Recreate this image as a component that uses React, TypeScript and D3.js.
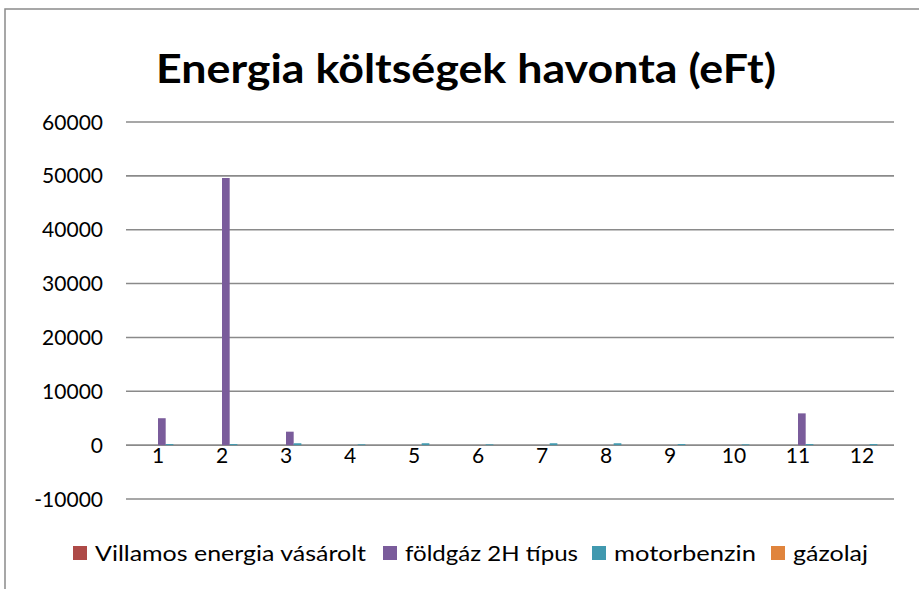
import React from 'react';
import * as d3 from 'd3';

// Months of the year (category axis)
const months = ['1', '2', '3', '4', '5', '6', '7', '8', '9', '10', '11', '12'];

// Series names as in the legend
const seriesNames = ['Villamos energia vásárolt', 'földgáz 2H típus', 'motorbenzin', 'gázolaj'];

// Values per month for each series (eFt)
const villamos = [0, 0, 0, 0, 0, 0, 0, 0, 0, 0, 0, 0];
const foldgaz = [5000, 49600, 2500, 0, 0, 0, 0, 0, 0, 0, 5900, 0];
const motorbenzin = [200, 200, 350, 150, 350, 150, 350, 350, 200, 150, 200, 200];
const gazolaj = [0, 0, 0, 0, 0, 0, 0, 0, 0, 0, 0, 0];

const yTicks = [-10000, 0, 10000, 20000, 30000, 40000, 50000, 60000];

const colors = ['#AE4A47', '#7A5C9B', '#4199AF', '#E0843C'];

const W = 919;
const H = 589;
const FONT = 'Lato, "Open Sans", sans-serif';

const App = () => {
    const seriesValues = [villamos, foldgaz, motorbenzin, gazolaj];

    // Plot area
    const plot = { left: 126, right: 894, top: 122, bottom: 499 };

    const x = d3.scaleBand().domain(months).range([plot.left, plot.right]).padding(0);
    const y = d3.scaleLinear().domain([-10000, 60000]).range([plot.bottom, plot.top]);

    // Bars sit in a small cluster that starts one bar width left of the category centre
    const barW = x.bandwidth() * 0.12;
    const inner = d3.scaleBand().domain(seriesNames).range([-barW, 3 * barW]);

    // Legend layout (square x, text width)
    const legendX = [73, 383, 592, 771];
    const legendW = [271, 173, 142, 75];

    return (
        <svg width={W} height={H} style={{ position: 'fixed', left: 0, top: 0, background: '#fff' }}>
            <rect x={5} y={9} width={W + 20} height={H + 20} fill="#fff" stroke="#8a8a8a" strokeWidth={1.5} />

            <text x={466} y={83} textAnchor="middle" fontFamily={FONT} fontWeight="bold" fontSize={40} fill="#000"
                textLength={620} lengthAdjust="spacingAndGlyphs">
                Energia költségek havonta (eFt)
            </text>

            {/* gridlines and y labels */}
            {yTicks.map((t) => (
                <g key={`tick-${t}`}>
                    <line x1={plot.left} x2={plot.right} y1={y(t)} y2={y(t)} stroke="#8a8a8a" strokeWidth={1.6} />
                    <text x={103} y={y(t) + 7.5} textAnchor="end" fontFamily={FONT} fontSize={21} fill="#000">
                        {t}
                    </text>
                </g>
            ))}

            {/* bars */}
            {seriesValues.map((vals, si) => (
                <g key={`series-${si}`} fill={colors[si]}>
                    {vals.map((v, i) => {
                        const cx = x(months[i])! + x.bandwidth() / 2;
                        return (
                            <rect
                                key={`bar-${si}-${i}`}
                                x={cx + inner(seriesNames[si])!}
                                y={Math.min(y(v), y(0))}
                                width={inner.bandwidth()}
                                height={Math.abs(y(0) - y(v))}
                            />
                        );
                    })}
                </g>
            ))}

            {/* category labels */}
            {months.map((m) => (
                <text key={`cat-${m}`} x={x(m)! + x.bandwidth() / 2} y={463} textAnchor="middle" fontFamily={FONT} fontSize={21} fill="#000">
                    {m}
                </text>
            ))}

            {/* legend */}
            {seriesNames.map((name, i) => (
                <g key={`legend-${i}`}>
                    <rect x={legendX[i]} y={546} width={14} height={14} fill={colors[i]} />
                    <text x={legendX[i] + 22} y={561} fontFamily={FONT} fontSize={22} fill="#000"
                        textLength={legendW[i]} lengthAdjust="spacingAndGlyphs">
                        {name}
                    </text>
                </g>
            ))}
        </svg>
    );
};

export default App;
